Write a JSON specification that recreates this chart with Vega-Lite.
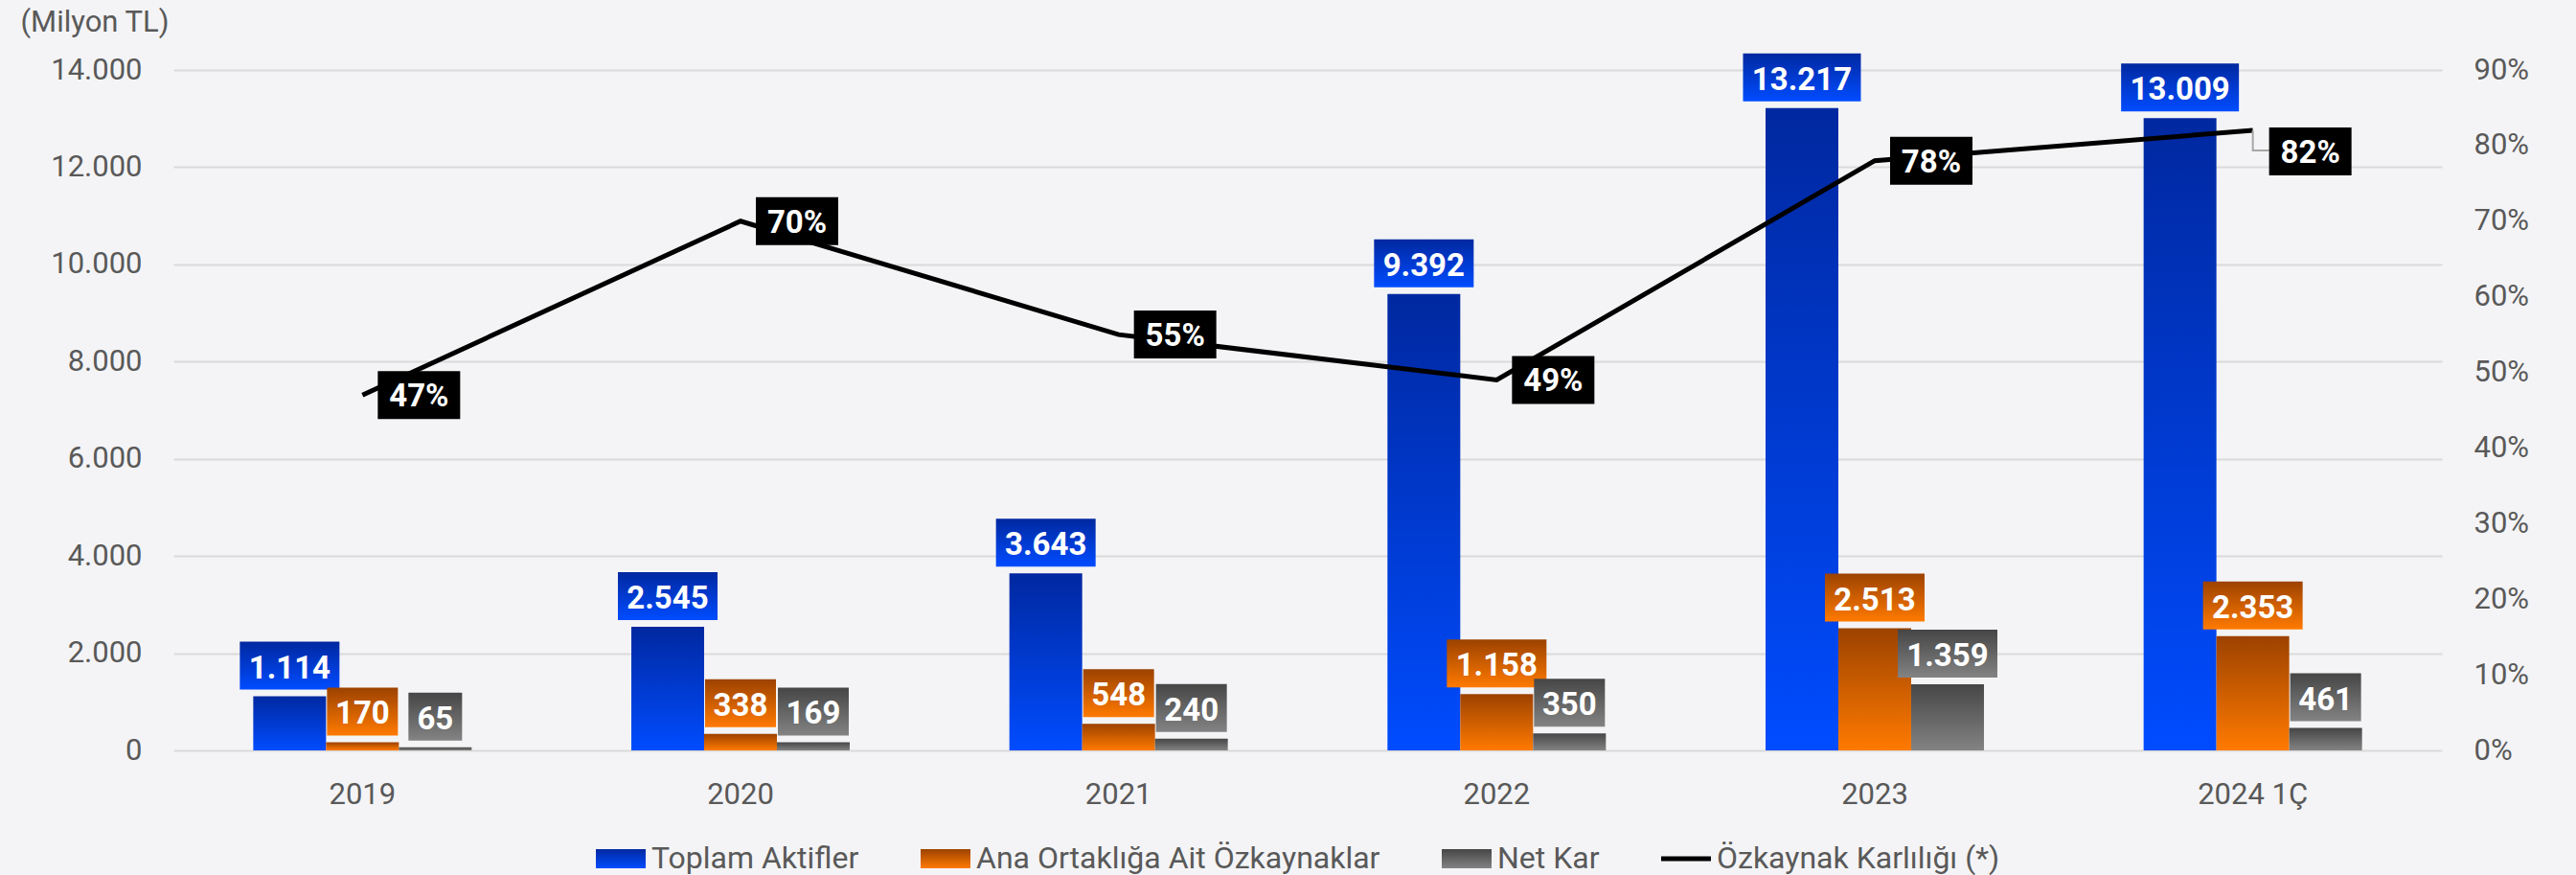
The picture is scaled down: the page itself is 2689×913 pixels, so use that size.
{
  "$schema": "https://vega.github.io/schema/vega-lite/v6.json",
  "autosize": {"type": "none"},
  "width": 2368,
  "height": 710,
  "padding": {"left": 181, "top": 73, "right": 140, "bottom": 130},
  "background": "#f4f4f6",
  "datasets": {
    "bars": [
      {"year": "2019", "series": "Toplam Aktifler", "value": 1114},
      {"year": "2019", "series": "Ana Ortaklığa Ait Özkaynaklar", "value": 170},
      {"year": "2019", "series": "Net Kar", "value": 65},
      {"year": "2020", "series": "Toplam Aktifler", "value": 2545},
      {"year": "2020", "series": "Ana Ortaklığa Ait Özkaynaklar", "value": 338},
      {"year": "2020", "series": "Net Kar", "value": 169},
      {"year": "2021", "series": "Toplam Aktifler", "value": 3643},
      {"year": "2021", "series": "Ana Ortaklığa Ait Özkaynaklar", "value": 548},
      {"year": "2021", "series": "Net Kar", "value": 240},
      {"year": "2022", "series": "Toplam Aktifler", "value": 9392},
      {"year": "2022", "series": "Ana Ortaklığa Ait Özkaynaklar", "value": 1158},
      {"year": "2022", "series": "Net Kar", "value": 350},
      {"year": "2023", "series": "Toplam Aktifler", "value": 13217},
      {"year": "2023", "series": "Ana Ortaklığa Ait Özkaynaklar", "value": 2513},
      {"year": "2023", "series": "Net Kar", "value": 1359},
      {"year": "2024 1Ç", "series": "Toplam Aktifler", "value": 13009},
      {"year": "2024 1Ç", "series": "Ana Ortaklığa Ait Özkaynaklar", "value": 2353},
      {"year": "2024 1Ç", "series": "Net Kar", "value": 461}
    ],
    "line": [
      {"year": "2019", "roe": 0.47},
      {"year": "2020", "roe": 0.70},
      {"year": "2021", "roe": 0.55},
      {"year": "2022", "roe": 0.49},
      {"year": "2023", "roe": 0.78},
      {"year": "2024 1Ç", "roe": 0.82}
    ]
  },
  "encoding": {
    "x": {
      "field": "year", "type": "nominal", "sort": null,
      "scale": {"paddingInner": 0.4223, "paddingOuter": 0.2112},
      "axis": {"title": null, "labelAngle": 0, "labelPadding": 31, "grid": false}
    }
  },
  "layer": [
    {
      "data": {"name": "bars"},
      "encoding": {
        "xOffset": {"field": "series", "type": "nominal", "scale": {"domain": ["Toplam Aktifler", "Ana Ortaklığa Ait Özkaynaklar", "Net Kar"], "paddingInner": 0, "paddingOuter": 0}},
        "y": {
          "field": "value", "type": "quantitative",
          "scale": {"domain": [0, 14000], "nice": false},
          "axis": {
            "values": [0, 2000, 4000, 6000, 8000, 10000, 12000, 14000],
            "format": ",.0f", "labelPadding": 33, "grid": true,
            "gridColor": "#dadada", "gridWidth": 2,
            "title": "(Milyon TL)", "titleAngle": 0, "titleAlign": "left", "titleBaseline": "alphabetic",
            "titleX": -160, "titleY": -41, "titleFont": "Roboto", "titleFontSize": 31, "titleFontWeight": "normal", "titleColor": "#595959"
          }
        },
        "color": {
          "field": "series", "type": "nominal",
          "scale": {
            "domain": ["Toplam Aktifler", "Ana Ortaklığa Ait Özkaynaklar", "Net Kar", "Özkaynak Karlılığı (*)"],
            "range": [
              {"expr": "{gradient: 'linear', x1: 0, y1: 0, x2: 0, y2: 1, stops: [{offset: 0, color: '#0028a0'}, {offset: 1, color: '#004cff'}]}"},
              {"expr": "{gradient: 'linear', x1: 0, y1: 0, x2: 0, y2: 1, stops: [{offset: 0, color: '#9c4200'}, {offset: 1, color: '#ff7a00'}]}"},
              {"expr": "{gradient: 'linear', x1: 0, y1: 0, x2: 0, y2: 1, stops: [{offset: 0, color: '#464646'}, {offset: 1, color: '#838383'}]}"},
              "#000000"
            ]
          },
          "legend": {
            "orient": "none", "legendX": 441, "legendY": 797,
            "direction": "horizontal", "title": null,
            "labelFont": "Roboto", "labelFontSize": 32, "labelColor": "#595959", "labelLimit": 700,
            "symbolSize": 2704, "labelOffset": 6, "columnPadding": 64,
            "symbolStrokeWidth": 0,
            "encode": {
              "symbols": {
                "update": {
                  "fill": {"scale": "color", "field": "value"},
                  "stroke": {"value": "transparent"},
                  "opacity": {"value": 1},
                  "shape": {"signal": "datum.value === 'Özkaynak Karlılığı (*)' ? 'M-1,-0.1H1V0.1H-1Z' : 'M-1,-0.385H1V0.385H-1Z'"}
                }
              }
            }
          }
        }
      },
      "layer": [
        {"mark": {"type": "bar"}},
        {
          "mark": {"type": "point", "filled": true, "size": 4, "opacity": 1, "strokeWidth": 0},
          "encoding": {
            "shape": {
              "condition": [
                {"test": "datum.value >= 10000", "value": "M-61.5,-57H61.5V-7H-61.5Z"},
                {"test": "datum.value >= 1000", "value": "M-52,-57H52V-7H-52Z"},
                {"test": "datum.value < 100", "value": "M-28,-57H28V-7H-28Z"}
              ],
              "value": "M-37,-57H37V-7H-37Z"
            }
          }
        },
        {
          "mark": {"type": "text", "font": "Roboto", "fontSize": 33, "fontWeight": "bold", "color": "#ffffff", "baseline": "alphabetic", "align": "center", "dy": -19},
          "encoding": {
            "text": {"field": "value", "type": "quantitative", "format": ",.0f"},
            "color": {"value": "#ffffff"}
          }
        }
      ]
    },
    {
      "data": {"name": "line"},
      "encoding": {
        "y": {
          "field": "roe", "type": "quantitative",
          "scale": {"domain": [0, 0.9], "nice": false},
          "axis": {
            "orient": "right", "values": [0, 0.1, 0.2, 0.3, 0.4, 0.5, 0.6, 0.7, 0.8, 0.9],
            "format": ".0%", "labelPadding": 33, "grid": false, "title": null
          }
        }
      },
      "layer": [
        {
          "mark": {"type": "line", "strokeWidth": 5, "strokeJoin": "miter"},
          "encoding": {"color": {"datum": "Özkaynak Karlılığı (*)", "type": "nominal"}}
        },
        {
          "transform": [{"filter": "datum.year !== '2024 1Ç'"}],
          "layer": [
            {
              "mark": {"type": "point", "filled": true, "size": 4, "opacity": 1, "strokeWidth": 0, "color": "#000000", "shape": "M16,-25H102V25H16Z"}
            },
            {
              "mark": {"type": "text", "font": "Roboto", "fontSize": 33, "fontWeight": "bold", "color": "#ffffff", "baseline": "alphabetic", "align": "center", "dx": 59, "dy": 12},
              "encoding": {"text": {"field": "roe", "type": "quantitative", "format": ".0%"}}
            }
          ]
        },
        {
          "transform": [{"filter": "datum.year === '2024 1Ç'"}],
          "layer": [
            {
              "mark": {"type": "point", "filled": false, "size": 4, "opacity": 1, "strokeWidth": 2, "color": "#a6a6a6", "shape": "M0,0V21H17"}
            },
            {
              "mark": {"type": "point", "filled": true, "size": 4, "opacity": 1, "strokeWidth": 0, "color": "#000000", "shape": "M17,-3H103V47H17Z"}
            },
            {
              "mark": {"type": "text", "font": "Roboto", "fontSize": 33, "fontWeight": "bold", "color": "#ffffff", "baseline": "alphabetic", "align": "center", "dx": 60, "dy": 34},
              "encoding": {"text": {"field": "roe", "type": "quantitative", "format": ".0%"}}
            }
          ]
        }
      ]
    }
  ],
  "resolve": {"scale": {"y": "independent"}},
  "config": {
    "locale": {"number": {"decimal": ",", "thousands": ".", "grouping": [3], "currency": ["", " TL"]}},
    "view": {"stroke": null},
    "axis": {
      "labelFont": "Roboto", "labelFontSize": 31, "labelColor": "#595959",
      "domain": false, "ticks": false, "tickSize": 0
    }
  }
}
